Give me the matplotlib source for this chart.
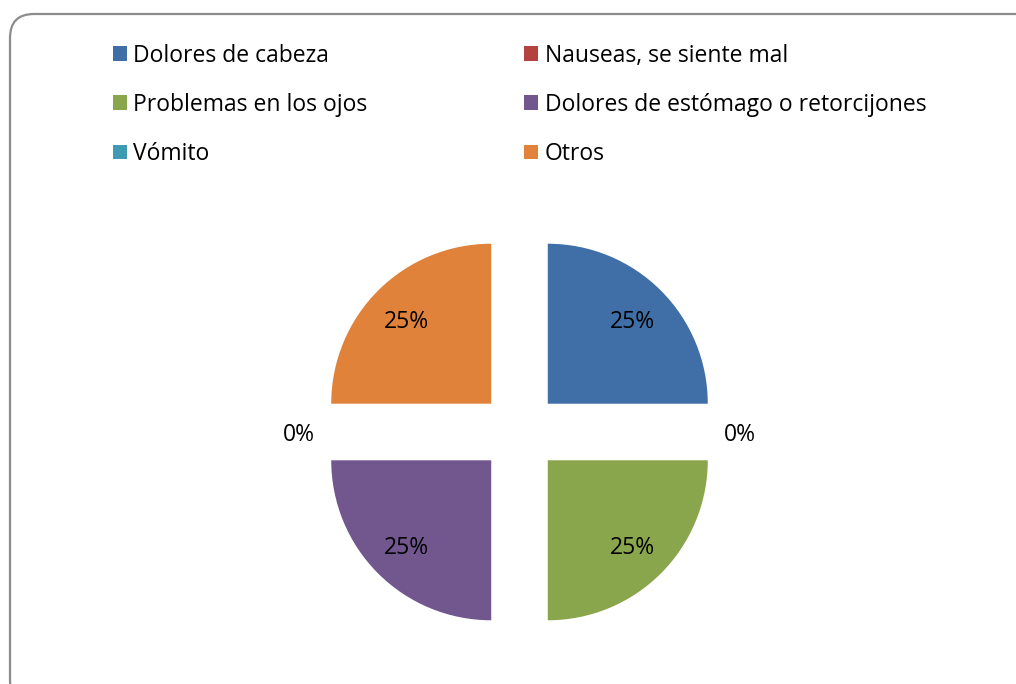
import matplotlib.pyplot as plt
from matplotlib.patches import FancyBboxPatch, Patch

categorias = ['Dolores de cabeza', 'Nauseas, se siente mal', 'Problemas en los ojos',
              'Dolores de estómago o retorcijones', 'Vómito', 'Otros']
valores = [25, 0, 25, 25, 0, 25]
colores = ['#3F6FA6', '#B4423F', '#8AA64C', '#72578F', '#3D9BB2', '#E0823A']

plt.rcParams['font.family'] = ['Open Sans', 'DejaVu Sans']

W, H = 1016, 684
fig = plt.figure(figsize=(W / 100, H / 100), dpi=100)

# marco redondeado en coordenadas de pixel
bg = fig.add_axes([0, 0, 1, 1], zorder=0)
bg.set_xlim(0, W)
bg.set_ylim(H, 0)
bg.axis('off')
bg.add_patch(FancyBboxPatch((10, 14), 1030, 690, boxstyle='round,pad=0,rounding_size=24',
                            facecolor='white', edgecolor='#8C8C8C', linewidth=1.6))

# pastel: centro (519.5, 432) px, radio 160 px
cx, cy, r = 519.5, 432, 160
half = 260
ax = fig.add_axes([(cx - half) / W, (H - cy - half) / H, 2 * half / W, 2 * half / H], zorder=1)
ax.set_xlim(-half / r, half / r)
ax.set_ylim(-half / r, half / r)
ax.axis('off')

wedges, texts, autotexts = ax.pie(valores, colors=colores, startangle=90, counterclock=False,
                                  explode=[0.25] * len(valores), autopct=lambda p: f'{p:.0f}%',
                                  pctdistance=0.75, wedgeprops=dict(linewidth=0),
                                  textprops=dict(fontsize=16.5, color='black'))
for v, t in zip(valores, autotexts):
    x, y = t.get_position()
    if v == 0:
        x, y = x * 1.38 / 1.0, y * 1.38 / 1.0
    t.set_position((x, y - 0.02))
ax.set_xlim(-half / r, half / r)
ax.set_ylim(-half / r, half / r)

# leyenda en filas (matplotlib llena por columnas)
orden = [0, 2, 4, 1, 3, 5]
handles = [Patch(facecolor=colores[i], edgecolor='none') for i in orden]
labels = [categorias[i] for i in orden]
fig.legend(handles, labels, ncol=2, loc='upper left', bbox_to_anchor=(92 / W, 1 - 23 / H),
           frameon=False, fontsize=16.5, handlelength=0.62, handleheight=0.62, handletextpad=0.28,
           columnspacing=6.83, labelspacing=1.1, borderpad=0.4)

fig.savefig('out.png', dpi=100)
